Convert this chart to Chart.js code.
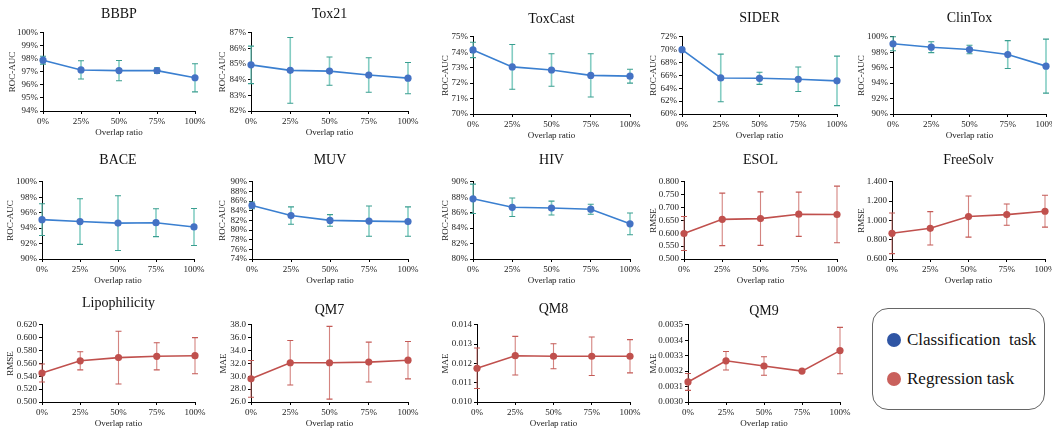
<!DOCTYPE html>
<html>
<head>
<meta charset="utf-8">
<script src="https://cdn.jsdelivr.net/npm/chart.js@4.4.1/dist/chart.umd.min.js"></script>
<style>
    html, body { margin: 0; padding: 0; background: #fff; overflow: hidden; width: 1052px; height: 430px; position: relative; }
    .panel { position: absolute; }
    .legend { position: absolute; left: 872px; top: 308px; width: 171px; height: 100px; border: 1px solid #666; border-radius: 16px;
              font-family: "Liberation Serif", "Times New Roman", serif; font-size: 17px; color: #111; }
    .legend .item { position: absolute; left: 14px; height: 20px; line-height: 20px; white-space: nowrap; }
    .legend .dot { display: inline-block; width: 14px; height: 14px; border-radius: 50%; vertical-align: -2px; margin-right: 6px; }
</style>
</head>
<body>
<div class="legend">
    <div class="item" style="top:21px"><span class="dot" style="background:#2f55a4"></span>Classification&nbsp; task</div>
    <div class="item" style="top:60px"><span class="dot" style="background:#c9605c"></span>Regression task</div>
</div>
<script>
const overlapLabels = ['0%', '25%', '50%', '75%', '100%'];

// mean and std of each dataset
const bbbpMean = [97.9, 97.15, 97.1, 97.1, 96.55];
const bbbpErr = [0.3, 0.7, 0.78, 0.22, 1.08];
const tox21Mean = [84.95, 84.6, 84.55, 84.3, 84.1];
const tox21Err = [1.2, 2.1, 0.9, 1.1, 1.0];
const toxcastMean = [74.15, 73.05, 72.85, 72.5, 72.45];
const toxcastErr = [0.5, 1.45, 1.05, 1.4, 0.45];
const siderMean = [70.0, 65.6, 65.55, 65.4, 65.15];
const siderErr = [0.2, 3.7, 0.95, 1.9, 3.85];
const clintoxMean = [99.1, 98.65, 98.35, 97.7, 96.2];
const clintoxErr = [0.9, 0.7, 0.55, 1.8, 3.5];
const baceMean = [95.1, 94.85, 94.65, 94.7, 94.15];
const baceErr = [2.05, 2.95, 3.55, 1.8, 2.4];
const muvMean = [85.1, 83.0, 82.0, 81.85, 81.75];
const muvErr = [0.7, 1.8, 1.2, 3.15, 3.05];
const hivMean = [87.8, 86.7, 86.6, 86.45, 84.55];
const hivErr = [1.9, 1.2, 0.9, 0.65, 1.4];
const esolMean = [0.599, 0.654, 0.657, 0.674, 0.673];
const esolErr = [0.066, 0.102, 0.104, 0.086, 0.11];
const freesolvMean = [0.866, 0.918, 1.04, 1.06, 1.095];
const freesolvErr = [0.21, 0.173, 0.213, 0.11, 0.165];
const lipoMean = [0.545, 0.564, 0.569, 0.571, 0.572];
const lipoErr = [0.014, 0.014, 0.041, 0.021, 0.028];
const qm7Mean = [29.6, 32.1, 32.1, 32.2, 32.5];
const qm7Err = [2.85, 3.45, 5.65, 3.1, 2.9];
const qm8Mean = [0.01175, 0.0124, 0.01237, 0.01237, 0.01237];
const qm8Err = [0.00105, 0.001, 0.00065, 0.001, 0.00086];
const qm9Mean = [0.00313, 0.003267, 0.003233, 0.0032, 0.003333];
const qm9Err = [0.000055, 0.00006, 0.00006, 0, 0.00015];

// name, values, y axis (min, max, step, decimals / pct)
const panels = [
    { name: 'BBBP', mean: bbbpMean, err: bbbpErr, cls: true, metric: 'ROC-AUC', min: 94, max: 100, step: 1, dec: -1 },
    { name: 'Tox21', mean: tox21Mean, err: tox21Err, cls: true, metric: 'ROC-AUC', min: 82, max: 87, step: 1, dec: -1 },
    { name: 'ToxCast', mean: toxcastMean, err: toxcastErr, cls: true, metric: 'ROC-AUC', min: 70, max: 75, step: 1, dec: -1 },
    { name: 'SIDER', mean: siderMean, err: siderErr, cls: true, metric: 'ROC-AUC', min: 60, max: 72, step: 2, dec: -1 },
    { name: 'ClinTox', mean: clintoxMean, err: clintoxErr, cls: true, metric: 'ROC-AUC', min: 90, max: 100, step: 2, dec: -1 },
    { name: 'BACE', mean: baceMean, err: baceErr, cls: true, metric: 'ROC-AUC', min: 90, max: 100, step: 2, dec: -1 },
    { name: 'MUV', mean: muvMean, err: muvErr, cls: true, metric: 'ROC-AUC', min: 74, max: 90, step: 2, dec: -1 },
    { name: 'HIV', mean: hivMean, err: hivErr, cls: true, metric: 'ROC-AUC', min: 80, max: 90, step: 2, dec: -1 },
    { name: 'ESOL', mean: esolMean, err: esolErr, cls: false, metric: 'RMSE', min: 0.5, max: 0.8, step: 0.05, dec: 3 },
    { name: 'FreeSolv', mean: freesolvMean, err: freesolvErr, cls: false, metric: 'RMSE', min: 0.6, max: 1.4, step: 0.2, dec: 3 },
    { name: 'Lipophilicity', mean: lipoMean, err: lipoErr, cls: false, metric: 'RMSE', min: 0.5, max: 0.62, step: 0.02, dec: 3 },
    { name: 'QM7', mean: qm7Mean, err: qm7Err, cls: false, metric: 'MAE', min: 26, max: 38, step: 2, dec: 1 },
    { name: 'QM8', mean: qm8Mean, err: qm8Err, cls: false, metric: 'MAE', min: 0.01, max: 0.014, step: 0.001, dec: 3 },
    { name: 'QM9', mean: qm9Mean, err: qm9Err, cls: false, metric: 'MAE', min: 0.003, max: 0.0035, step: 0.0001, dec: 4 }
];

// plot area on the page: left, right, top, bottom, title centre y, y-title distance from axis
const layout = [
    [43, 195, 34, 111, 15, 31], [251, 408, 34, 111, 15, 29], [473, 630, 38, 114, 20, 28], [682, 837, 38, 114, 19, 29], [893, 1046, 38, 114, 19, 32],
    [42, 194, 183, 259, 161, 32], [252, 408, 183, 259, 161, 30], [473, 630, 183, 259, 161, 28], [684, 837, 183, 259, 161, 31], [892, 1045, 183, 259, 161, 31],
    [42, 195, 326, 402, 304, 32], [251, 408, 326, 402, 311, 28], [477, 630, 326, 402, 310, 32], [688, 840, 326, 402, 312, 35]
];

const serif = '"Liberation Serif", "Times New Roman", serif';
const TICK_SIZE = 9, X_H = 30, PAD_R = 14;

// error bars drawn through the chart's own scales
const errorBars = {
    id: 'errorBars',
    beforeDatasetsDraw(chart, args, opts) {
        const { ctx, scales: { x, y } } = chart;
        const ds = chart.data.datasets[0];
        ctx.save();
        ds.data.forEach((v, i) => {
            const e = ds.errors[i];
            if (!e) return;
            const px = x.getPixelForValue(i);
            const t = y.getPixelForValue(v + e);
            const b = y.getPixelForValue(v - e);
            ctx.strokeStyle = opts.barColor;
            ctx.lineWidth = opts.barWidth;
            ctx.beginPath();
            ctx.moveTo(px, t); ctx.lineTo(px, b);
            ctx.stroke();
            ctx.strokeStyle = opts.capColor;
            ctx.lineWidth = 1.1;
            ctx.beginPath();
            ctx.moveTo(px - 3, t); ctx.lineTo(px + 3, t);
            ctx.moveTo(px - 3, b); ctx.lineTo(px + 3, b);
            ctx.stroke();
        });
        ctx.restore();
    }
};

panels.forEach((p, k) => {
    const [L, R, T, B, TY, off] = layout[k];
    const yW = Math.round(off + TICK_SIZE * 0.6);
    const titlePad = T - TY - 9;
    const w = yW + (R - L) + PAD_R;
    const h = 18 + titlePad + (B - T) + X_H;

    const div = document.createElement('div');
    div.className = 'panel';
    div.style.left = (L - yW) + 'px';
    div.style.top = (TY - 9) + 'px';
    const canvas = document.createElement('canvas');
    canvas.width = w;
    canvas.height = h;
    canvas.style.width = w + 'px';
    canvas.style.height = h + 'px';
    div.appendChild(canvas);
    document.body.appendChild(div);

    const lineColor = p.cls ? '#3a7fd0' : '#c0504d';
    const pointColor = p.cls ? '#4472c4' : '#c0504d';

    new Chart(canvas.getContext('2d'), {
        type: 'line',
        data: {
            labels: overlapLabels,
            datasets: [{
                data: p.mean,
                errors: p.err,
                borderColor: lineColor,
                borderWidth: 1.6,
                pointBackgroundColor: pointColor,
                pointBorderWidth: 0,
                pointRadius: 3.6,
                tension: 0,
                clip: false
            }]
        },
        options: {
            responsive: false,
            animation: false,
            layout: { padding: { left: 0, right: PAD_R, top: 0, bottom: 0 } },
            plugins: {
                legend: { display: false },
                tooltip: { enabled: false },
                title: {
                    display: true,
                    text: p.name,
                    fullSize: false,
                    color: '#111',
                    font: { family: serif, size: 14, weight: 'normal' },
                    padding: { top: 0, bottom: titlePad }
                },
                errorBars: p.cls
                    ? { barColor: 'rgba(110,196,184,0.85)', barWidth: 1.6, capColor: '#3a9e90' }
                    : { barColor: 'rgba(205,110,106,0.85)', barWidth: 1.1, capColor: '#c45a56' }
            },
            scales: {
                x: {
                    offset: false,
                    afterFit: s => { s.height = X_H; },
                    border: { display: true, color: '#000', width: 1 },
                    grid: { display: true, drawOnChartArea: false, drawTicks: true, tickLength: 3, color: '#000', offset: false },
                    ticks: { autoSkip: false, maxRotation: 0, padding: 2, color: '#222', font: { family: serif, size: TICK_SIZE } },
                    title: { display: true, text: 'Overlap ratio', color: '#222', font: { family: serif, size: TICK_SIZE }, padding: { top: 0, bottom: 3 } }
                },
                y: {
                    min: p.min,
                    max: p.max,
                    afterFit: s => { s.width = yW; },
                    border: { display: true, color: '#000', width: 1 },
                    grid: { display: true, drawOnChartArea: false, drawTicks: true, tickLength: 3, color: '#000' },
                    ticks: {
                        stepSize: p.step,
                        autoSkip: false,
                        padding: 2,
                        color: '#222',
                        font: { family: serif, size: TICK_SIZE },
                        callback: v => p.dec < 0 ? Math.round(v) + '%' : Number(v).toFixed(p.dec)
                    },
                    title: { display: true, text: p.metric, color: '#222', font: { family: serif, size: TICK_SIZE }, padding: 0 }
                }
            }
        },
        plugins: [errorBars]
    });
});
</script>
</body>
</html>
